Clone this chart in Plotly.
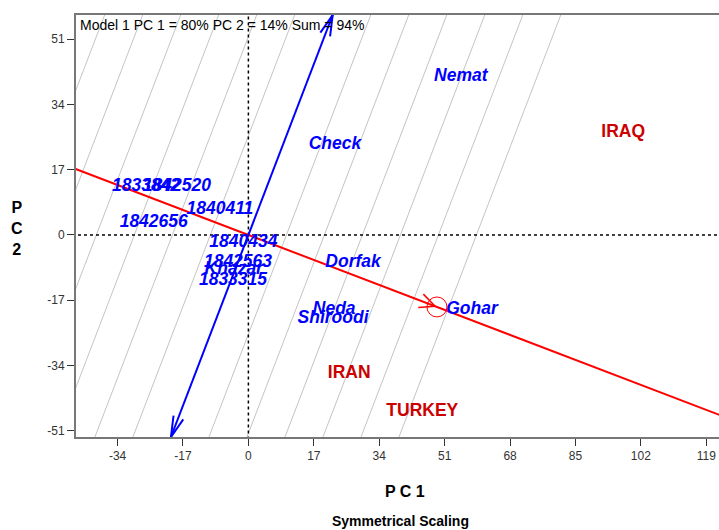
import numpy as np
import plotly.graph_objects as go

# ---------------- data ----------------
genotypes = ["Nemat", "Check", "1833842", "1842520", "1840411", "1842656",
             "1840434", "1842563", "Khazar", "1833315", "Dorfak", "Neda",
             "Shiroodi", "Gohar"]
geno_x = [55.2, 22.5, -26.6, -18.6, -7.4, -24.6, -1.3, -2.7, -3.8, -4.0,
          27.2, 22.3, 22.0, 58.1]
geno_y = [41.1, 23.4, 12.5, 12.5, 6.5, 3.1, -2.1, -7.3, -9.1, -12.0,
          -7.3, -19.5, -21.9, -19.5]

environments = ["IRAQ", "IRAN", "TURKEY"]
env_x = [97.4, 26.2, 45.2]
env_y = [26.6, -36.2, -46.1]

# average environment coordinate (small circle)
avg_env_x = 49.0
avg_env_y = -18.75
avg_env_r = 2.6

# perpendicular grid positions along the average-environment axis
grid_positions = [-55.35, -46.13, -36.9, -27.68, -18.45, -9.23,
                  9.23, 18.45, 27.68, 36.9, 46.13, 55.35]

x_ticks = [-34, -17, 0, 17, 34, 51, 68, 85, 102, 119]
x_tick_labels = ["-34", "-17", "0", "17", "34", "51", "68", "85", "102", "119"]
y_ticks = [-51, -34, -17, 0, 17, 34, 51]
y_tick_labels = ["-51", "-34", "-17", "0", "17", "34", "51"]

x_range = [-44.8, 122.3]
y_range = [-52.6, 57.25]

title_text = "Model 1 PC 1 = 80% PC 2 = 14% Sum = 94%"

# ---------------- geometry ----------------
u = np.array([avg_env_x, avg_env_y])
u = u / np.linalg.norm(u)            # AEA direction
v = np.array([-u[1], u[0]])          # perpendicular (ATC) direction
if v[1] < 0:
    v = -v

FONT = "Liberation Sans, Arial, sans-serif"
fig = go.Figure()

# grey grid lines perpendicular to AEA
gx, gy = [], []
for t in grid_positions:
    p = t * u
    a = p - 300 * v
    b = p + 300 * v
    gx += [a[0], b[0], None]
    gy += [a[1], b[1], None]
fig.add_trace(go.Scatter(x=gx, y=gy, mode="lines",
                         line=dict(color="#C4C4C4", width=1),
                         hoverinfo="skip", showlegend=False))

# dotted axes through origin
fig.add_trace(go.Scatter(x=[0, 0], y=[-300, 300], mode="lines",
                         line=dict(color="black", width=1.5, dash="dot"),
                         hoverinfo="skip", showlegend=False))
fig.add_trace(go.Scatter(x=[-300, 300], y=[0, 0], mode="lines",
                         line=dict(color="black", width=1.5, dash="dot"),
                         hoverinfo="skip", showlegend=False))

# red AEA line
a = -300 * u
b = 300 * u
fig.add_trace(go.Scatter(x=[a[0], b[0]], y=[a[1], b[1]], mode="lines",
                         line=dict(color="#FF0000", width=2),
                         hoverinfo="skip", showlegend=False))


def barbs(tip, direction, length, ang_deg):
    xs, ys = [], []
    ang = np.radians(ang_deg)
    for s in (1, -1):
        c, sn = np.cos(s * ang), np.sin(s * ang)
        d = np.array([c * direction[0] - sn * direction[1],
                      sn * direction[0] + c * direction[1]])
        e = tip - length * d
        xs += [tip[0], e[0], None]
        ys += [tip[1], e[1], None]
    return xs, ys


# red arrow toward average environment
t_tip = float(np.dot([avg_env_x, avg_env_y], u)) - 0.5
tip = t_tip * u
rx, ry = barbs(tip, u, 4.4, 25)
fig.add_trace(go.Scatter(x=rx, y=ry, mode="lines",
                         line=dict(color="#FF0000", width=1.5),
                         hoverinfo="skip", showlegend=False))

# blue ATC line with arrows at both ends
top_tip = v * (y_range[1] / v[1])
bot_tip = v * (y_range[0] / v[1])
fig.add_trace(go.Scatter(x=[bot_tip[0], top_tip[0]], y=[bot_tip[1], top_tip[1]],
                         mode="lines", line=dict(color="#0000FF", width=2),
                         hoverinfo="skip", showlegend=False))
bx1, by1 = barbs(top_tip, v, 5.6, 14)
bx2, by2 = barbs(bot_tip, -v, 5.6, 14)
fig.add_trace(go.Scatter(x=bx1 + bx2, y=by1 + by2, mode="lines",
                         line=dict(color="#0000FF", width=2),
                         hoverinfo="skip", showlegend=False))

# circle at average environment
fig.add_shape(type="circle", xref="x", yref="y",
              x0=avg_env_x - avg_env_r, x1=avg_env_x + avg_env_r,
              y0=avg_env_y - avg_env_r, y1=avg_env_y + avg_env_r,
              line=dict(color="#FF0000", width=1))

# genotype labels
fig.add_trace(go.Scatter(x=geno_x, y=geno_y, mode="text", text=genotypes,
                         textposition="middle center",
                         textfont=dict(family=FONT, size=17.5, color="#0000FF",
                                       style="italic", weight="bold"),
                         hoverinfo="skip", showlegend=False))

# environment labels
fig.add_trace(go.Scatter(x=env_x, y=env_y, mode="text", text=environments,
                         textposition="middle center",
                         textfont=dict(family=FONT, size=17.5, color="#CC0000",
                                       weight="bold"),
                         hoverinfo="skip", showlegend=False))

# title inside plot
fig.add_annotation(text=title_text, xref="paper", yref="paper",
                   x=0.003, y=1.0, xanchor="left", yanchor="top",
                   showarrow=False,
                   font=dict(family=FONT, size=14, color="black"))

# axis titles
fig.add_annotation(text="<b>P C 1</b>", xref="paper", yref="paper",
                   x=0.512, y=-0.130, xanchor="center", yanchor="middle",
                   showarrow=False, font=dict(family=FONT, size=16, color="black"))
fig.add_annotation(text="<b>Symmetrical Scaling</b>", xref="paper", yref="paper",
                   x=0.504, y=-0.199, xanchor="center", yanchor="middle",
                   showarrow=False, font=dict(family=FONT, size=14, color="black"))
fig.add_annotation(text="<b>P<br>C<br>2</b>", xref="paper", yref="paper",
                   x=-0.092, y=0.493, xanchor="center", yanchor="middle",
                   showarrow=False, font=dict(family=FONT, size=16, color="black"))

fig.update_layout(
    width=719, height=530,
    margin=dict(l=76, r=0, t=15, b=93, autoexpand=False),
    plot_bgcolor="white", paper_bgcolor="white",
    font=dict(family=FONT, size=12, color="#333333"),
    showlegend=False,
    xaxis=dict(range=x_range, tickmode="array", tickvals=x_ticks,
               ticktext=x_tick_labels, ticklabeloverflow="allow",
               showgrid=False, zeroline=False, showline=True, mirror=True,
               linecolor="#777777", linewidth=2, ticks="outside", ticklen=7,
               tickcolor="#333333", tickfont=dict(size=12, color="#333333")),
    yaxis=dict(range=y_range, tickmode="array", tickvals=y_ticks,
               ticktext=y_tick_labels,
               showgrid=False, zeroline=False, showline=True,
               linecolor="#777777", linewidth=2, ticks="outside", ticklen=7,
               tickcolor="#333333", tickfont=dict(size=12, color="#333333")),
)

# remove the default page margin so the figure sits at the window's corner
fig.write_html("out.html",
               config={"displayModeBar": False},
               post_script="document.body.style.margin='0';"
                           "document.body.style.overflow='hidden';")
